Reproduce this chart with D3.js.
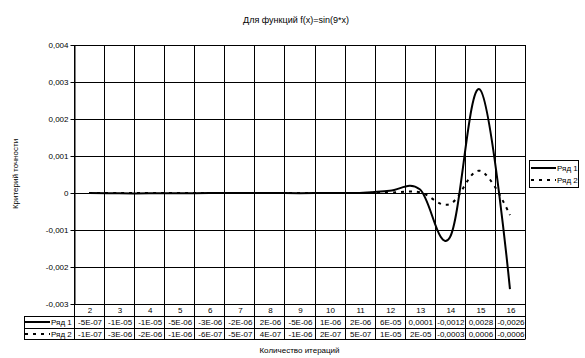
<!DOCTYPE html>
<html>
<head>
<meta charset="utf-8">
<script src="https://cdn.jsdelivr.net/npm/d3@7"></script>
<style>
  body { margin: 0; background: #fff; }
  text { font-family: "Liberation Sans", Arial, sans-serif; fill: #000; }
</style>
</head>
<body>
<svg width="585" height="358"></svg>
<script>
// chart data
var categories = [2, 3, 4, 5, 6, 7, 8, 9, 10, 11, 12, 13, 14, 15, 16];
var seriesNames = ["Ряд 1", "Ряд 2"];
var series1 = [-5e-7, -1e-5, -1e-5, -5e-6, -3e-6, -2e-6, 2e-6, -5e-6, 1e-6, 2e-6, 6e-5, 0.0001, -0.0012, 0.0028, -0.0026];
var series2 = [-1e-7, -3e-6, -2e-6, -1e-6, -6e-7, -5e-7, 4e-7, -1e-6, 2e-7, 5e-7, 1e-5, 2e-5, -0.0003, 0.0006, -0.0006];
var yTicks = [-0.003, -0.002, -0.001, 0, 0.001, 0.002, 0.003, 0.004];
var title = "Для функций f(x)=sin(9*x)";
var xTitle = "Количество итераций";
var yTitle = "Критерий точности";

function main() {
    var svg = d3.select("svg");
    var pLeft = 74, pRight = 525, pTop = 45, pBottom = 304;
    var rowH = 11.8;
    var keyLeft = 24;

    var x = d3.scaleBand().domain(categories).range([pLeft, pRight]).padding(0);
    var y = d3.scaleLinear().domain([-0.003, 0.004]).range([pBottom, pTop]);

    // excel-ish number formats
    function tickFmt(v) {
        if (v === 0) return "0";
        return String(+v.toFixed(3)).replace(".", ",");
    }
    function cellFmt(v) {
        if (v === 0) return "0";
        if (Math.abs(v) < 1e-4) {
            var s = v.toExponential(0).toUpperCase(); // e.g. -5E-7
            return s.replace(/E([+-])(\d)$/, "E$10$2").replace("E+", "E");
        }
        return String(v).replace(".", ",");
    }
    function crisp(v) { return Math.round(v) + 0.5; }

    var g = svg.append("g");

    // horizontal gridlines
    g.selectAll(".hgrid")
        .data(yTicks)
        .enter().append("line")
        .attr("x1", pLeft).attr("x2", pRight)
        .attr("y1", function (d) { return crisp(y(d)); })
        .attr("y2", function (d) { return crisp(y(d)); })
        .attr("stroke", "#000");

    // vertical gridlines / table column borders
    var bounds = categories.map(function (c) { return x(c); }).concat([pRight]);
    var tableBottom = pBottom + rowH * 3;
    g.selectAll(".vgrid")
        .data(bounds)
        .enter().append("line")
        .attr("x1", function (d) { return crisp(d); })
        .attr("x2", function (d) { return crisp(d); })
        .attr("y1", pTop).attr("y2", crisp(tableBottom))
        .attr("stroke", "#000");

    // y axis
    var yAxis = d3.axisLeft(y).tickValues(yTicks).tickSize(4).tickSizeOuter(0).tickFormat(tickFmt);
    var ax = svg.append("g")
        .attr("transform", "translate(" + crisp(pLeft) + ",0)")
        .call(yAxis);
    ax.select(".domain").attr("stroke", "#000");
    ax.selectAll(".tick line").attr("stroke", "#000");
    ax.selectAll(".tick text")
        .attr("font-family", "Liberation Sans, Arial, sans-serif")
        .attr("font-size", "8px")
        .attr("x", -6);
    ax.selectAll(".tick").attr("transform", function (d) { return "translate(0," + crisp(y(d)) + ")"; });

    // data table
    var rows = [series1, series2];
    [1, 2, 3].forEach(function (i) {
        g.append("line")
            .attr("x1", keyLeft).attr("x2", pRight)
            .attr("y1", crisp(pBottom + rowH * i)).attr("y2", crisp(pBottom + rowH * i))
            .attr("stroke", "#000");
    });
    g.append("line")
        .attr("x1", crisp(keyLeft)).attr("x2", crisp(keyLeft))
        .attr("y1", crisp(pBottom + rowH)).attr("y2", crisp(tableBottom))
        .attr("stroke", "#000");

    svg.selectAll(".cat")
        .data(categories)
        .enter().append("text")
        .attr("x", function (d) { return x(d) + x.bandwidth() / 2 + 1; })
        .attr("y", pBottom + rowH / 2 + 3)
        .attr("text-anchor", "middle")
        .attr("font-size", "8px")
        .text(function (d) { return d; });

    rows.forEach(function (vals, r) {
        var cy = pBottom + rowH * (r + 1) + rowH / 2 + 3;
        svg.selectAll(".val" + r)
            .data(vals)
            .enter().append("text")
            .attr("x", function (d, i) { return x(categories[i]) + x.bandwidth() / 2 + 1; })
            .attr("y", cy)
            .attr("text-anchor", "middle")
            .attr("font-size", "8px")
            .text(function (d) { return cellFmt(d); });
        // key
        var ky = Math.round(pBottom + rowH * (r + 1) + rowH / 2);
        svg.append("line")
            .attr("x1", keyLeft + 1).attr("x2", keyLeft + 26)
            .attr("y1", ky).attr("y2", ky)
            .attr("stroke", "#000").attr("stroke-width", 2)
            .attr("stroke-dasharray", r === 1 ? "3,5" : null);
        svg.append("text")
            .attr("x", keyLeft + 27).attr("y", cy)
            .attr("font-size", "8px")
            .text(seriesNames[r]);
    });

    // lines
    var line = d3.line()
        .x(function (d, i) { return x(categories[i]) + x.bandwidth() / 2; })
        .y(function (d) { return y(d); })
        .curve(d3.curveCardinal.tension(-0.1));

    svg.append("path")
        .datum(series2)
        .attr("d", line)
        .attr("fill", "none")
        .attr("stroke", "#000")
        .attr("stroke-width", 2)
        .attr("stroke-dasharray", "3,5");

    svg.append("path")
        .datum(series1)
        .attr("d", line)
        .attr("fill", "none")
        .attr("stroke", "#000")
        .attr("stroke-width", 2);

    // legend
    var lg = svg.append("g").attr("transform", "translate(529,160)");
    lg.append("rect")
        .attr("x", 0.5).attr("y", 0.5).attr("width", 49).attr("height", 27)
        .attr("fill", "#fff").attr("stroke", "#000");
    seriesNames.forEach(function (n, i) {
        var ly = 8 + i * 12;
        lg.append("line")
            .attr("x1", 2).attr("x2", 27).attr("y1", ly).attr("y2", ly)
            .attr("stroke", "#000").attr("stroke-width", 2)
            .attr("stroke-dasharray", i === 1 ? "3,5" : null);
        lg.append("text")
            .attr("x", 28).attr("y", ly + 3)
            .attr("font-size", "8px")
            .text(n);
    });

    // titles
    svg.append("text")
        .attr("x", 296).attr("y", 23)
        .attr("text-anchor", "middle")
        .attr("font-size", "9px")
        .text(title);
    svg.append("text")
        .attr("x", (pLeft + pRight) / 2).attr("y", 353)
        .attr("text-anchor", "middle")
        .attr("font-size", "8px")
        .text(xTitle);
    svg.append("text")
        .attr("transform", "translate(18,174) rotate(-90)")
        .attr("text-anchor", "middle")
        .attr("font-size", "8px")
        .text(yTitle);
}
main();
</script>
</body>
</html>
